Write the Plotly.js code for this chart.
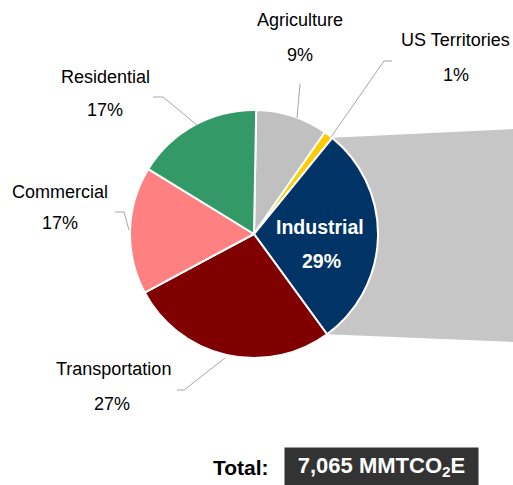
<!DOCTYPE html>
<html>
<head>
<meta charset="utf-8">
<script src="https://cdn.plot.ly/plotly-3.0.1.min.js"></script>
<style>html,body{margin:0;padding:0;background:#fff;}#chart{width:513px;height:485px;}</style>
</head>
<body>
<div id="chart"></div>
<script>
// ---- data ----
var sectors = ["Agriculture", "US Territories", "Industrial", "Transportation", "Commercial", "Residential"];
var shares  = [9.4, 1.2, 29.1, 27.2, 16.6, 16.5];
var colors  = ["#c0c0c0", "#ffcc00", "#003366", "#800000", "#ff8080", "#339966"];
var totalLabel = "Total:";
var totalValue = "7,065 MMTCO<sub>2</sub>E";

// ---- layout helpers ----
var W = 513, H = 485;
var CX = 254, CY = 234, R = 124;
var ROT = 1;
function px(x) { return x / W; }
function py(y) { return 1 - y / H; }

var sum = shares.reduce(function (a, b) { return a + b; }, 0);
function pct(i) { return Math.round(shares[i] / sum * 100) + "%"; }
// edge angles (clockwise from 12 o'clock)
var edges = [ROT];
shares.forEach(function (v) { edges.push(edges[edges.length - 1] + v / sum * 360); });
function arcPt(deg) {
  var a = deg * Math.PI / 180;
  return [CX + R * Math.sin(a), CY - R * Math.cos(a)];
}
var iInd = sectors.indexOf("Industrial");
var p1 = arcPt(edges[iInd]), p2 = arcPt(edges[iInd + 1]);

var FONT = '"Liberation Sans", Arial, sans-serif';
var LBL = 18;

var shapes = [];
// bar-of-pie style callout behind Industrial
shapes.push({
  type: "path", xref: "paper", yref: "paper", layer: "below",
  path: "M" + px(CX) + "," + py(CY) + " L" + px(p1[0]) + "," + py(p1[1]) +
        " L" + px(W) + "," + py(129) + " L" + px(W) + "," + py(342) +
        " L" + px(p2[0]) + "," + py(p2[1]) + " Z",
  fillcolor: "#c6c6c6", line: { width: 0 }
});
function leader(pts) {
  var d = pts.map(function (p, k) { return (k ? "L" : "M") + px(p[0]) + "," + py(p[1]); }).join(" ");
  shapes.push({ type: "path", xref: "paper", yref: "paper", layer: "above", path: d,
    line: { color: "#a6a6a6", width: 1 } });
}
leader([[300, 84], [297, 118]]);
leader([[392, 61], [384, 61], [331, 137]]);
leader([[153, 97], [163, 97], [197, 125]]);
leader([[115, 212], [124, 212], [129, 230]]);
leader([[177, 390], [184, 390], [225, 358]]);

var annotations = [];
function txt(s, x, y, opts) {
  opts = opts || {};
  annotations.push({
    text: s, x: px(x), y: py(y), xref: "paper", yref: "paper", showarrow: false,
    xanchor: opts.xanchor || "center", yanchor: "middle",
    font: { family: opts.family || FONT, size: opts.size || LBL, color: opts.color || "#000000" }
  });
}
var labelPos = {
  "Agriculture":    [[300, 20], [300, 55]],
  "US Territories": [[455, 40], [456, 75]],
  "Residential":    [[105, 77], [105, 110]],
  "Commercial":     [[60, 192], [60, 223]],
  "Transportation": [[113, 369], [112, 404]]
};
sectors.forEach(function (s, i) {
  if (labelPos[s]) {
    txt(s, labelPos[s][0][0], labelPos[s][0][1]);
    txt(pct(i), labelPos[s][1][0], labelPos[s][1][1]);
  }
});
txt("<b>Industrial</b>", 320, 227, { size: 19.5, color: "#ffffff" });
txt("<b>" + pct(iInd) + "</b>", 321, 261, { size: 19.5, color: "#ffffff" });

txt("<b>" + totalLabel + "</b>", 241, 467, { size: 21 });
annotations.push({
  text: "<b>" + totalValue + "</b>", x: px(381.5), y: py(466.5), xref: "paper", yref: "paper",
  showarrow: false, xanchor: "center", yanchor: "middle",
  width: 193, height: 37, borderpad: 0, bgcolor: "#333333",
  font: { family: FONT, size: 22, color: "#ffffff" }
});

var data = [{
  type: "pie",
  labels: sectors,
  values: shares,
  sort: false,
  direction: "clockwise",
  rotation: ROT,
  marker: { colors: colors, line: { color: "#ffffff", width: 2 } },
  textinfo: "none",
  hoverinfo: "skip",
  showlegend: false,
  domain: { x: [px(CX - R), px(CX + R)], y: [py(CY + R), py(CY - R)] }
}];

var layout = {
  width: W, height: H,
  margin: { l: 0, r: 0, t: 0, b: 0 },
  paper_bgcolor: "#ffffff",
  showlegend: false,
  shapes: shapes,
  annotations: annotations
};
Plotly.newPlot("chart", data, layout, { staticPlot: true, displayModeBar: false });
</script>
</body>
</html>
